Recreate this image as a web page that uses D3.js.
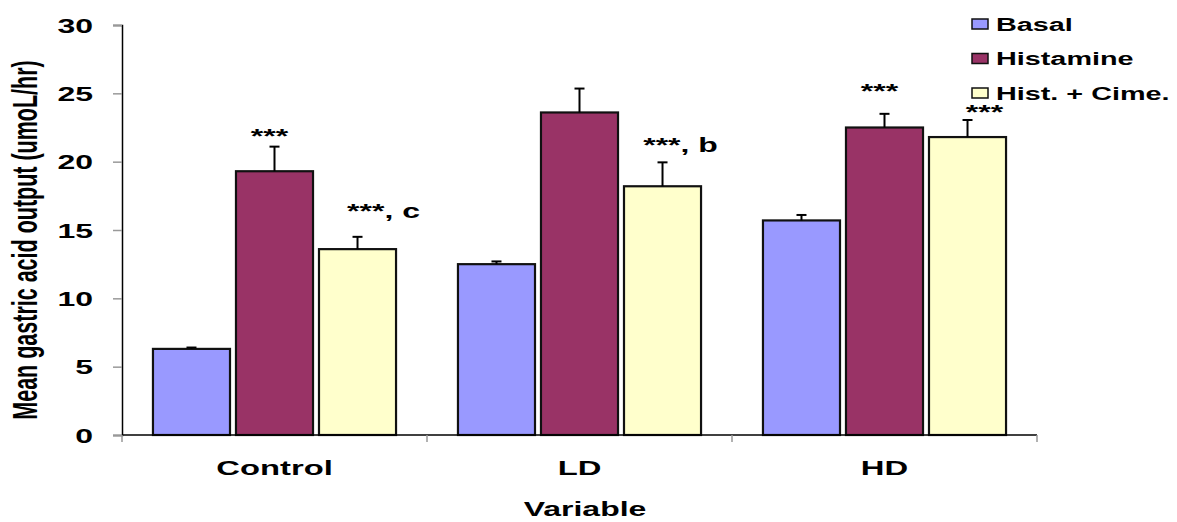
<html>
<head>
<title>gastric-acid</title>
<script src="https://d3js.org/d3.v7.min.js"></script>
<style>
  body { margin: 0; background: #fff; }
  text { font-family: "Liberation Sans", Arial, sans-serif; font-weight: bold; fill: #000; }
</style>
</head>
<body>
<script>
// data
const categories = ["Control", "LD", "HD"];
const series = ["Basal", "Histamine", "Hist. + Cime."];
const colors = ["#9999FF", "#993366", "#FFFFCC"];
const basal = [6.3, 12.5, 15.7];
const histamine = [19.3, 23.6, 22.5];
const histCime = [13.6, 18.2, 21.8];
const basalErr = [0.1, 0.2, 0.4];
const histamineErr = [1.8, 1.75, 1.0];
const histCimeErr = [0.9, 1.75, 1.25];
const yTicks = [0, 5, 10, 15, 20, 25, 30];
// significance marks: [category, series, text]
const marks = [
  ["Control", "Histamine", "***"],
  ["Control", "Hist. + Cime.", "***, c"],
  ["LD", "Hist. + Cime.", "***, b"],
  ["HD", "Histamine", "***"],
  ["HD", "Hist. + Cime.", "***"]
];
// hand placement of the marks relative to the error cap [dx, dy]
const markNudge = [[-5, -4], [26, -19], [18, -10], [-5, -15.5], [17, -0.5]];

const w = 1177, h = 522;
const sx = 1.6; // the original text is stretched sideways

const rows = [];
categories.forEach((c, i) => {
  rows.push({cat: c, s: series[0], v: basal[i], e: basalErr[i]});
  rows.push({cat: c, s: series[1], v: histamine[i], e: histamineErr[i]});
  rows.push({cat: c, s: series[2], v: histCime[i], e: histCimeErr[i]});
});

const svg = d3.select("body").append("svg").attr("width", w).attr("height", h);

const x0 = d3.scaleBand().domain(categories).range([122, 1037]);
const x1 = d3.scaleBand().domain(series).range([0, x0.bandwidth()])
  .paddingInner(0.072).paddingOuter(0.373);
const y = d3.scaleLinear().domain([0, 30]).range([435, 25]);
const color = d3.scaleOrdinal().domain(series).range(colors);

// y axis
const yAxis = svg.append("g").attr("transform", "translate(122,0)")
  .call(d3.axisLeft(y).tickValues(yTicks).tickSize(9).tickPadding(0));
yAxis.select(".domain").attr("stroke", "#000").attr("stroke-width", 1.5);
yAxis.selectAll(".tick line").attr("stroke", "#999").attr("stroke-width", 1.5);
yAxis.selectAll(".tick text")
  .attr("x", -29 / sx).attr("dy", "0.36em")
  .attr("transform", `scale(${sx},1)`)
  .style("font-size", "20px").style("font-family", null);

// bars
const bars = svg.append("g");
bars.selectAll("rect").data(rows).enter().append("rect")
  .attr("x", d => x0(d.cat) + x1(d.s))
  .attr("y", d => y(d.v))
  .attr("width", x1.bandwidth())
  .attr("height", d => y(0) - y(d.v))
  .attr("fill", d => color(d.s))
  .attr("stroke", "#111").attr("stroke-width", 2.2);

// error bars (upper only)
const err = svg.append("g").attr("stroke", "#000").attr("stroke-width", 2);
err.selectAll("line.v").data(rows).enter().append("line")
  .attr("x1", d => x0(d.cat) + x1(d.s) + x1.bandwidth() / 2)
  .attr("x2", d => x0(d.cat) + x1(d.s) + x1.bandwidth() / 2)
  .attr("y1", d => y(d.v)).attr("y2", d => y(d.v + d.e));
err.selectAll("line.c").data(rows).enter().append("line")
  .attr("x1", d => x0(d.cat) + x1(d.s) + x1.bandwidth() / 2 - 5)
  .attr("x2", d => x0(d.cat) + x1(d.s) + x1.bandwidth() / 2 + 5)
  .attr("y1", d => y(d.v + d.e)).attr("y2", d => y(d.v + d.e));

// x axis
svg.append("line").attr("x1", 122).attr("x2", 1037)
  .attr("y1", y(0)).attr("y2", y(0)).attr("stroke", "#000").attr("stroke-width", 1.5);
const edges = categories.map(c => x0(c)).concat([x0.range()[1]]);
svg.selectAll("line.xt").data(edges).enter().append("line")
  .attr("x1", d => d).attr("x2", d => d)
  .attr("y1", y(0)).attr("y2", y(0) + 7)
  .attr("stroke", "#999").attr("stroke-width", 1.5);
svg.selectAll("text.cat").data(categories).enter().append("text")
  .attr("transform", d => `translate(${x0(d) + x0.bandwidth() / 2},475) scale(${sx},1)`)
  .attr("text-anchor", "middle").style("font-size", "20.5px")
  .text(d => d);

// significance marks
svg.selectAll("text.mark").data(marks).enter().append("text")
  .attr("transform", (d, i) => {
    const r = rows.find(o => o.cat === d[0] && o.s === d[1]);
    const cx = x0(r.cat) + x1(r.s) + x1.bandwidth() / 2 + markNudge[i][0];
    const cy = y(r.v + r.e) + markNudge[i][1];
    return `translate(${cx},${cy}) scale(${sx},1)`;
  })
  .attr("text-anchor", "middle").style("font-size", "20px")
  .text(d => d[2]);

// axis titles
svg.append("text")
  .attr("transform", `translate(585,516) scale(${sx},1)`)
  .attr("text-anchor", "middle").style("font-size", "20px")
  .text("Variable");
svg.append("text")
  .attr("transform", `translate(36.5,240) scale(${sx},1) rotate(-90)`)
  .attr("text-anchor", "middle").style("font-size", "21.5px")
  .text("Mean gastric acid output (umoL/hr)");

// legend
const legend = svg.append("g").selectAll("g").data(series).enter().append("g")
  .attr("transform", (d, i) => `translate(972,${24 + i * 34.5})`);
legend.append("rect")
  .attr("x", 0).attr("y", -5).attr("width", 16).attr("height", 10)
  .attr("fill", d => color(d)).attr("stroke", "#111").attr("stroke-width", 1.5);
legend.append("text")
  .attr("transform", `translate(24,6.5) scale(${sx},1)`)
  .style("font-size", "18px")
  .text(d => d);
</script>
</body>
</html>
